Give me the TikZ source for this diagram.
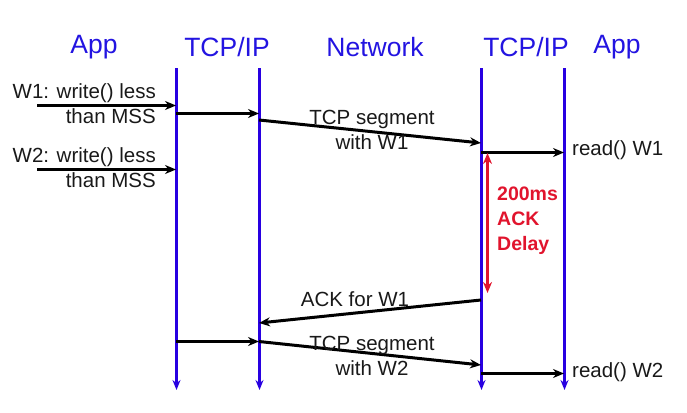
\documentclass[tikz,border=0pt]{standalone}
\usepackage{fontspec}
\setmainfont{Liberation Sans}
\usetikzlibrary{arrows.meta}
\definecolor{lineblue}{RGB}{40,0,225}
\definecolor{headblue}{RGB}{35,20,225}
\definecolor{delayred}{RGB}{225,20,45}
\definecolor{txt}{RGB}{25,25,25}
\begin{document}
\begin{tikzpicture}[x=1pt,y=-1pt,
  header/.style={text=headblue,font=\fontsize{26.5}{30}\selectfont,inner sep=0pt},
  lbl/.style={text=txt,font=\fontsize{20.5}{25}\selectfont,inner sep=0pt},
  lifeline/.style={draw=lineblue,line width=3pt,-{Stealth[length=10pt,width=8pt]}},
  msg/.style={draw=black,line width=3pt,-{Stealth[length=11pt,width=9pt]}},
  delay/.style={draw=delayred,line width=3pt,{Stealth[length=11pt,width=9pt]}-{Stealth[length=11pt,width=9pt]}}]
\useasboundingbox (0,0) rectangle (687,412);
% headers
\node[header] (happ1) at (94,47) {App};
\node[header] (htcp1) at (227,47) {TCP/IP};
\node[header] (hnet) at (375,47) {Network};
\node[header] (htcp2) at (526,47) {TCP/IP};
\node[header] (happ2) at (617,47) {App};
% lifelines
\coordinate (a1t) at (176.5,68); \coordinate (a1b) at (176.5,390);
\coordinate (t1t) at (259.5,68); \coordinate (t1b) at (259.5,390);
\coordinate (t2t) at (481.5,68); \coordinate (t2b) at (481.5,390);
\coordinate (a2t) at (564.5,68); \coordinate (a2b) at (564.5,390);
\draw[lifeline] (a1t) -- (a1b);
\draw[lifeline] (t1t) -- (t1b);
\draw[lifeline] (t2t) -- (t2b);
\draw[lifeline] (a2t) -- (a2b);
% W1
\coordinate (w1s) at (37,105.5); \coordinate (w1e) at (176,105.5);
\draw[msg] (w1s) -- (w1e);
\node[lbl,anchor=east,align=right] (w1l) at (156,104) {W1: write() less\\than MSS};
\coordinate (p1s) at (176,113.5); \coordinate (p1e) at (259,113.5);
\draw[msg] (p1s) -- (p1e);
\coordinate (s1s) at (259,120); \coordinate (s1e) at (481,143);
\draw[msg] (s1s) -- (s1e);
\node[lbl,align=center] (s1l) at (372,130) {TCP segment\\with W1};
\coordinate (r1s) at (481,152.5); \coordinate (r1e) at (564,152.5);
\draw[msg] (r1s) -- (r1e);
\node[lbl,anchor=west] (r1l) at (572,150) {read() W1};
% W2
\coordinate (w2s) at (37,169.5); \coordinate (w2e) at (176,169.5);
\draw[msg] (w2s) -- (w2e);
\node[lbl,anchor=east,align=right] (w2l) at (156,168) {W2: write() less\\than MSS};
% delay
\coordinate (ds) at (487.5,153); \coordinate (de) at (487.5,293);
\draw[delay] (ds) -- (de);
\node[anchor=north west,align=left,text=delayred,font=\bfseries\fontsize{19.5}{25}\selectfont,inner sep=0pt] (dl) at (497,187) {200ms\\ACK\\Delay};
% ACK
\coordinate (ks) at (481,300); \coordinate (ke) at (259,323);
\draw[msg] (ks) -- (ke);
\node[lbl] (kl) at (355,299) {ACK for W1};
% W2 send
\coordinate (p2s) at (176,341.5); \coordinate (p2e) at (259,341.5);
\draw[msg] (p2s) -- (p2e);
\coordinate (s2s) at (259,341.5); \coordinate (s2e) at (481,365);
\draw[msg] (s2s) -- (s2e);
\node[lbl,align=center] (s2l) at (372,356) {TCP segment\\with W2};
\coordinate (r2s) at (481,373.5); \coordinate (r2e) at (564,373.5);
\draw[msg] (r2s) -- (r2e);
\node[lbl,anchor=west] (r2l) at (572,372) {read() W2};
\end{tikzpicture}
\end{document}
